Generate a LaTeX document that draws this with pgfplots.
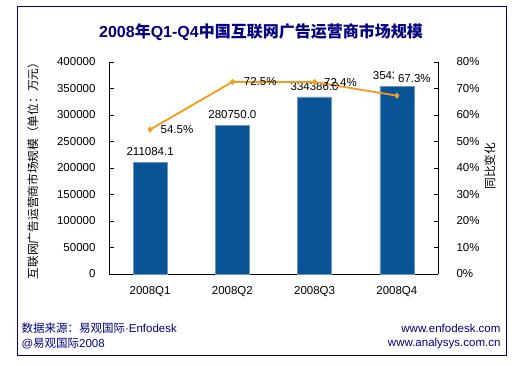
\documentclass[border=0pt]{standalone}
\usepackage{pgfplots}
\pgfplotsset{compat=1.18}
\usepackage{fontspec}
\setmainfont{Liberation Sans}
\newfontfamily\cjk{Noto Sans CJK SC}
\definecolor{navy}{RGB}{0,0,128}
\definecolor{barblue}{RGB}{8,84,150}
\definecolor{lineorange}{RGB}{247,153,25}
\begin{document}
\begin{tikzpicture}[x=1pt,y=1pt]
\useasboundingbox (0,0) rectangle (519,365);
\fill[white] (0,0) rectangle (519,365);
\draw[navy, line width=1pt] (17,358) rectangle (506,10);
% title
\node[navy, font=\fontsize{16}{18}\selectfont\bfseries] at (261,333) {2008{\cjk 年}Q1-Q4{\cjk 中国互联网广告运营商市场规模}};
% footer
\node[navy, anchor=west, font=\fontsize{11.5}{13}\selectfont] at (18,37) {{\cjk 数据来源：易观国际}·Enfodesk};
\node[navy, anchor=west, font=\fontsize{11.5}{13}\selectfont] at (18,21) {@{\cjk 易观国际}2008};
\node[navy, anchor=east, font=\fontsize{11.5}{13}\selectfont] at (504,37) {www.enfodesk.com};
\node[navy, anchor=east, font=\fontsize{11.5}{13}\selectfont] at (504,21) {www.analysys.com.cn};
% axis labels
\node[rotate=90, font=\fontsize{11.7}{13}\selectfont\cjk] at (33,197) {互联网广告运营商市场规模（单位：万元）};
\node[rotate=90, font=\fontsize{11.7}{13}\selectfont\cjk] at (490,199) {同比变化};
\begin{axis}[
  at={(109pt,91pt)}, anchor=south west,
  scale only axis, width=329pt, height=212pt,
  xmin=-0.5, xmax=3.5, ymin=0, ymax=400000,
  axis x line*=bottom, axis y line*=left,
  axis line style={black, line width=0.8pt, -},
  xtick={0,1,2,3}, xticklabels={2008Q1,2008Q2,2008Q3,2008Q4},
  xtick style={draw=none},
  ytick={0,50000,...,400000},
  scaled y ticks=false,
  tick align=inside, major tick length=5pt,
  ytick style={black, line width=0.8pt},
  /pgf/number format/assume math mode=true,
  /pgf/number format/fixed, /pgf/number format/1000 sep={},
  tick label style={font=\fontsize{11.5}{13}\selectfont},
  yticklabel style={xshift=-10pt},
  xticklabel style={yshift=-9pt},
  enlargelimits=false, clip=false,
]
\addplot[ybar, bar width=34pt, fill=barblue, draw=barblue!60!white,
  point meta=explicit symbolic,
  nodes near coords,
  every node near coord/.append style={font=\fontsize{11.5}{13}\selectfont, black, yshift=3pt}]
  coordinates {(0,211084.1)[211084.1] (1,280750.0)[280750.0] (2,334386.0)[334386.0] (3,354300.0)[354300.0]};
\end{axis}
\begin{axis}[
  at={(109pt,91pt)}, anchor=south west,
  scale only axis, width=329pt, height=212pt,
  xmin=-0.5, xmax=3.5, ymin=0, ymax=80,
  axis x line=none, axis y line*=right,
  axis line style={black, line width=0.8pt, -},
  ytick={0,10,...,80},
  yticklabel={\pgfmathprintnumber{\tick}\%},
  tick align=inside, major tick length=4pt,
  ytick style={black, line width=0.8pt},
  /pgf/number format/assume math mode=true,
  tick label style={font=\fontsize{11.5}{13}\selectfont},
  yticklabel style={xshift=15pt},
  enlargelimits=false, clip=false,
]
\addplot[lineorange, line width=1.8pt, mark=diamond*, mark size=2.6pt, mark options={fill=lineorange, line width=0.8pt}]
  coordinates {(0,54.5) (1,72.5) (2,72.4) (3,67.3)};
\node[anchor=west, font=\fontsize{11.5}{13}\selectfont, xshift=7pt] at (axis cs:0,54.5) {54.5\%};
\node[anchor=west, font=\fontsize{11.5}{13}\selectfont, xshift=8pt] at (axis cs:1,72.5) {72.5\%};
\node[anchor=west, font=\fontsize{11.5}{13}\selectfont, xshift=6pt] at (axis cs:2,72.4) {72.4\%};
\node[anchor=south west, fill=white, inner xsep=4pt, inner ysep=4pt, font=\fontsize{11.5}{13}\selectfont, xshift=-3pt, yshift=9pt] at (axis cs:3,67.3) {67.3\%};
\end{axis}
\end{tikzpicture}
\end{document}
